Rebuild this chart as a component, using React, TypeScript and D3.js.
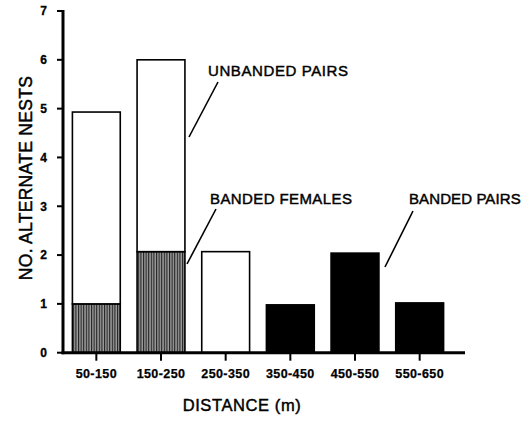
import React from "react";
import * as d3 from "d3";

const categories = ["50-150", "150-250", "250-350", "350-450", "450-550", "550-650"];
const bandedFemales = [1.0, 2.07, 0, 0, 0, 0];
const unbandedPairs = [3.93, 3.93, 2.07, 0, 0, 0];
const bandedPairs = [0, 0, 0, 0.98, 2.04, 1.02];
const yTicks = [0, 1, 2, 3, 4, 5, 6, 7];
const seriesKeys = ["bandedFemales", "unbandedPairs", "bandedPairs"];

const W = 525;
const H = 423;
const FONT = "'Liberation Sans', Arial, Helvetica, sans-serif";

export default function App() {
  const rows = categories.map((c, i) => ({
    cat: c,
    bandedFemales: bandedFemales[i],
    unbandedPairs: unbandedPairs[i],
    bandedPairs: bandedPairs[i],
  }));
  const stack = d3.stack<any>().keys(seriesKeys);
  const stacked = stack(rows);

  const x = d3.scaleBand<string>().domain(categories).range([64, 452]).paddingInner(0.26).paddingOuter(0.13);
  const y = d3.scaleLinear().domain([0, 7]).range([352.7, 11]);
  const axisX = 63;
  const axisY = y(0);

  const fills: Record<string, string> = {
    bandedFemales: "url(#hatch)",
    unbandedPairs: "#ffffff",
    bandedPairs: "#000000",
  };

  const heavy = { stroke: "#000", strokeWidth: 0.45 };

  return (
    <svg width={W} height={H} style={{ position: "absolute", left: 0, top: 0, background: "#fff" }} fontFamily={FONT}>
      <defs>
        <pattern id="hatch" patternUnits="userSpaceOnUse" width="2.6" height="10">
          <rect width="2.6" height="10" fill="#9a9a9a" />
          <rect x="0" width="1.1" height="10" fill="#222" />
        </pattern>
      </defs>

      {stacked.map((s) =>
        s.map((d, i) => {
          const v = d[1] - d[0];
          if (v <= 0) return null;
          return (
            <rect
              key={s.key + i}
              x={x(categories[i])!}
              y={y(d[1])}
              width={x.bandwidth()}
              height={y(d[0]) - y(d[1])}
              fill={fills[s.key]}
              stroke="#000"
              strokeWidth={1.6}
            />
          );
        })
      )}

      {/* y axis */}
      <line x1={axisX} x2={axisX} y1={y(7) - 1} y2={axisY + 1.5} stroke="#000" strokeWidth={3} />
      {yTicks.map((t) => (
        <g key={t}>
          <line x1={axisX - 6} x2={axisX} y1={y(t)} y2={y(t)} stroke="#000" strokeWidth={2} />
          <text x={47} y={y(t)} dy="0.36em" textAnchor="end" fontSize={12} fontWeight="bold" {...heavy} strokeWidth={0.3}>
            {t}
          </text>
        </g>
      ))}

      {/* x axis */}
      <line x1={axisX - 1.5} x2={465} y1={axisY} y2={axisY} stroke="#000" strokeWidth={3} />
      {categories.map((c) => {
        const cx = x(c)! + x.bandwidth() / 2;
        return (
          <g key={c}>
            <line x1={cx} x2={cx} y1={axisY} y2={axisY + 8} stroke="#000" strokeWidth={2} />
            <text x={cx} y={378} textAnchor="middle" fontSize={12.5} fontWeight="bold" letterSpacing={0.4} {...heavy} strokeWidth={0.25}>
              {c}
            </text>
          </g>
        );
      })}

      {/* axis titles */}
      <text x={242} y={411} textAnchor="middle" fontSize={16.5} letterSpacing={0.6} {...heavy}>
        DISTANCE (m)
      </text>
      <text
        transform={`translate(32,178) rotate(-90)`}
        textAnchor="middle"
        fontSize={17.5}
        letterSpacing={0.3}
        {...heavy}
      >
        NO. ALTERNATE NESTS
      </text>

      {/* annotations */}
      <text x={208} y={76} fontSize={15} letterSpacing={0.6} {...heavy}>UNBANDED PAIRS</text>
      <line x1={218} y1={82} x2={189} y2={137} stroke="#000" strokeWidth={1.6} />
      <text x={210} y={204} fontSize={15} letterSpacing={0.4} {...heavy}>BANDED FEMALES</text>
      <line x1={216} y1={209} x2={187} y2={264} stroke="#000" strokeWidth={1.6} />
      <text x={409} y={204} fontSize={15} letterSpacing={0.1} {...heavy}>BANDED PAIRS</text>
      <line x1={413} y1={211} x2={385} y2={267} stroke="#000" strokeWidth={1.6} />
    </svg>
  );
}
